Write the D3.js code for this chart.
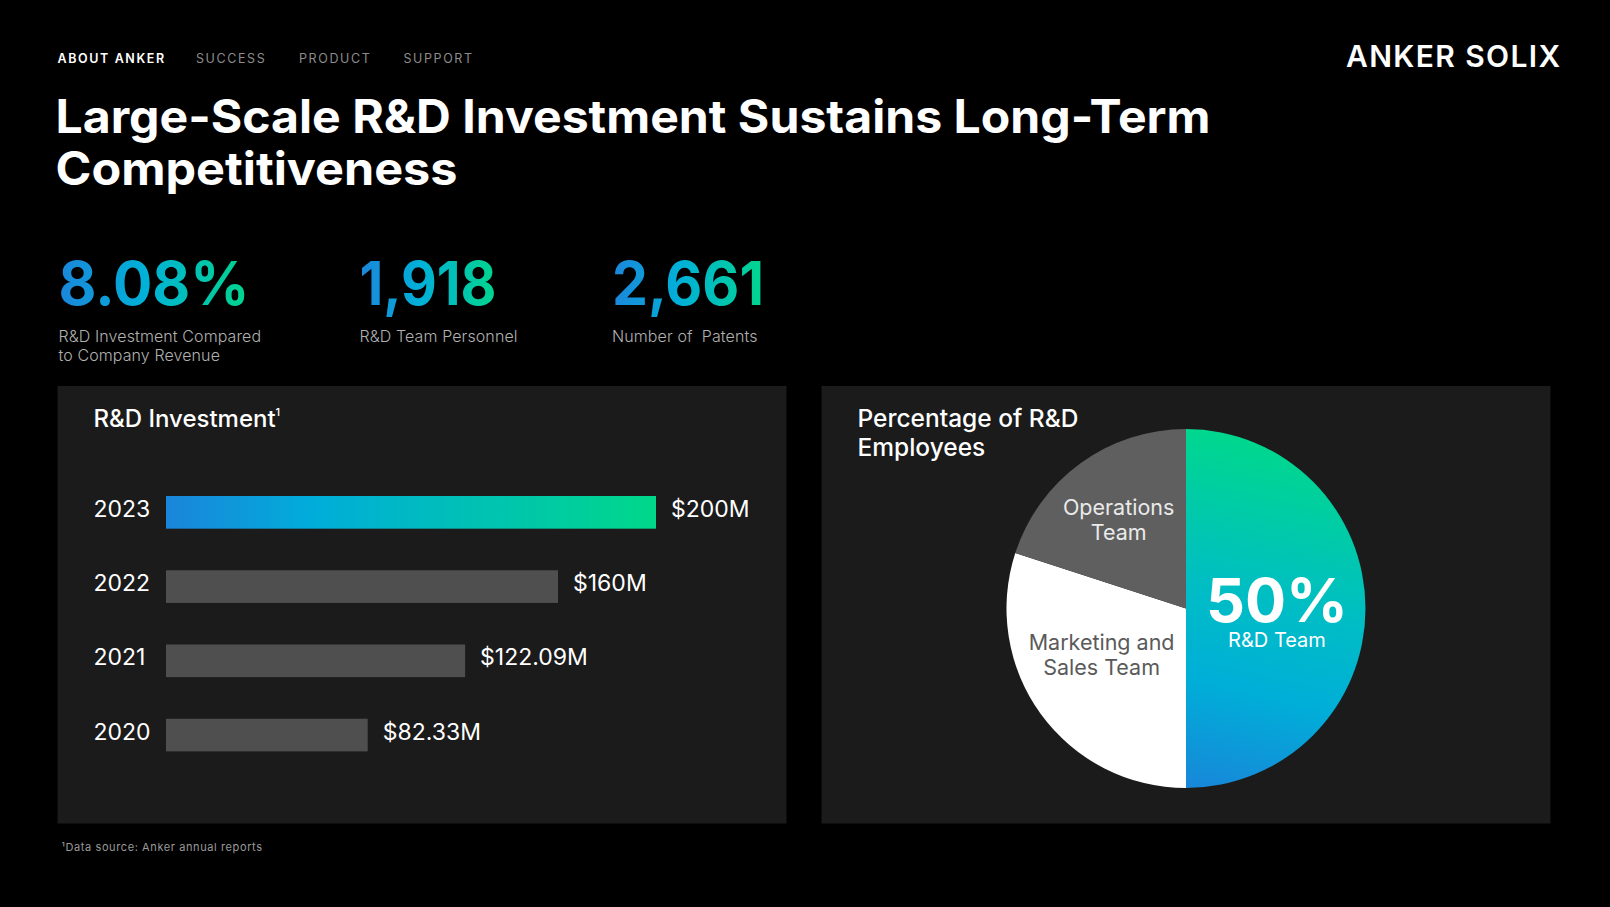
<!DOCTYPE html>
<html>
<head>
<meta charset="utf-8">
<script src="https://cdn.jsdelivr.net/npm/d3@7"></script>
<style>
    html, body { margin: 0; padding: 0; background: #000; }
    svg { display: block; font-family: Inter, "Noto Sans", sans-serif; }
</style>
</head>
<body>
<svg id="chart" width="1610" height="907"></svg>
<script>
// ---- data ----
const navItems = ["ABOUT ANKER", "SUCCESS", "PRODUCT", "SUPPORT"];
const titleLines = ["Large-Scale R&D Investment Sustains Long-Term", "Competitiveness"];
const statValues = ["8.08%", "1,918", "2,661"];
const statLabels = [["R&D Investment Compared", "to Company Revenue"], ["R&D Team Personnel"], ["Number of  Patents"]];
const years = ["2023", "2022", "2021", "2020"];
const investment = [200, 160, 122.09, 82.33];
const investmentLabels = ["$200M", "$160M", "$122.09M", "$82.33M"];
const teams = ["R&D Team", "Marketing and Sales Team", "Operations Team"];
const teamShare = [50, 30, 20];
const teamLines = [["R&D Team"], ["Marketing and", "Sales Team"], ["Operations", "Team"]];

(function() {
    const svg = d3.select("#chart");
    const defs = svg.append("defs");

    function hGradient(id, stops) {
        const g = defs.append("linearGradient").attr("id", id)
            .attr("x1", 0).attr("y1", 0).attr("x2", 1).attr("y2", 0);
        stops.forEach(s => g.append("stop").attr("offset", s[0]).attr("stop-color", s[1]));
    }
    hGradient("numGrad", [[0, "#1c86db"], [0.45, "#00b1d8"], [1, "#00d68c"]]);
    hGradient("barGrad", [[0, "#1b85da"], [0.3, "#00adda"], [1, "#00d88a"]]);

    svg.append("rect").attr("width", 1610).attr("height", 907).attr("fill", "#000");

    // nav
    const navX = [57.5, 196, 299, 403.5];
    svg.append("g").selectAll("text")
        .data(navItems)
        .join("text")
        .attr("x", (d, i) => navX[i])
        .attr("y", 62.5)
        .attr("font-size", 12.5)
        .attr("letter-spacing", 1.6)
        .attr("font-weight", (d, i) => i === 0 ? 600 : 400)
        .attr("fill", (d, i) => i === 0 ? "#ffffff" : "#8c8c8c")
        .text(d => d);

    // logo
    svg.append("text")
        .attr("x", 1346).attr("y", 66.5)
        .attr("font-size", 30)
        .attr("font-weight", 600)
        .attr("fill", "#fff")
        .attr("textLength", 214)
        .attr("lengthAdjust", "spacing")
        .text("ANKER SOLIX");

    // title
    const titleWidth = [1155, 402];
    svg.append("g").selectAll("text")
        .data(titleLines)
        .join("text")
        .attr("x", 55.5)
        .attr("y", (d, i) => 133 + i * 51.5)
        .attr("font-size", 46)
        .attr("font-weight", 700)
        .attr("fill", "#fff")
        .attr("textLength", (d, i) => titleWidth[i])
        .attr("lengthAdjust", "spacingAndGlyphs")
        .text(d => d);

    // stats
    const statX = [58.5, 359.5, 612];
    const statW = [191, 137, 152];
    const stats = svg.append("g").selectAll("g")
        .data(statValues)
        .join("g")
        .attr("transform", (d, i) => `translate(${statX[i]},0)`);
    stats.append("text")
        .attr("y", 305)
        .attr("font-size", 61)
        .attr("font-weight", 700)
        .attr("fill", "url(#numGrad)")
        .attr("textLength", (d, i) => statW[i])
        .attr("lengthAdjust", "spacingAndGlyphs")
        .text(d => d);
    stats.each(function(d, i) {
        d3.select(this).selectAll("text.lbl")
            .data(statLabels[i])
            .join("text")
            .attr("class", "lbl")
            .attr("y", (t, j) => 341.5 + j * 19.5)
            .attr("font-size", 16)
            .attr("font-weight", 300)
            .attr("letter-spacing", 0.1)
            .style("white-space", "pre")
            .attr("fill", "#b0b0b0")
            .text(t => t);
    });

    // panels
    svg.append("rect").attr("x", 57.5).attr("y", 386).attr("width", 729).attr("height", 437.5).attr("fill", "#1b1b1b");
    svg.append("rect").attr("x", 821.5).attr("y", 386).attr("width", 729).attr("height", 437.5).attr("fill", "#1b1b1b");

    // bar chart
    const barTitle = svg.append("text").attr("x", 93.5).attr("y", 426.5)
        .attr("font-size", 24).attr("font-weight", 500).attr("fill", "#fff");
    barTitle.append("tspan").text("R&D Investment");
    barTitle.append("tspan").attr("font-size", 11).attr("dy", -11).text("1");

    const x = d3.scaleLinear().domain([0, 200]).range([166, 656]);
    const y = d3.scaleBand().domain(years).range([496, 751.4]).paddingInner(0.56).paddingOuter(0);

    const rows = svg.append("g").selectAll("g")
        .data(years)
        .join("g");
    rows.append("rect")
        .attr("x", x(0))
        .attr("y", d => y(d))
        .attr("width", (d, i) => x(investment[i]) - x(0))
        .attr("height", y.bandwidth())
        .attr("fill", (d, i) => i === 0 ? "url(#barGrad)" : "#4f4f4f");
    rows.append("text")
        .attr("x", 93.5)
        .attr("y", d => y(d) + y.bandwidth() / 2 + 4.5)
        .attr("font-size", 23)
        .attr("fill", "#fff")
        .text(d => d);
    rows.append("text")
        .attr("x", (d, i) => x(investment[i]) + 15)
        .attr("y", d => y(d) + y.bandwidth() / 2 + 4.5)
        .attr("font-size", 23)
        .attr("fill", "#fff")
        .text((d, i) => investmentLabels[i]);

    // pie chart
    svg.append("g").selectAll("text")
        .data(["Percentage of R&D", "Employees"])
        .join("text")
        .attr("x", 857.5)
        .attr("y", (d, i) => 426.5 + i * 29.5)
        .attr("font-size", 24.5)
        .attr("font-weight", 500)
        .attr("fill", "#fff")
        .text(d => d);

    const cx = 1186, cy = 608.5, r = 179.5;
    // gradient coordinates are in the translated pie group's space
    defs.append("linearGradient").attr("id", "pieGrad")
        .attr("gradientUnits", "userSpaceOnUse")
        .attr("x1", 60).attr("y1", -r)
        .attr("x2", -20).attr("y2", r)
        .selectAll("stop")
        .data([[0, "#00d98a"], [0.45, "#00bdc5"], [0.7, "#00aed8"], [1, "#1985d9"]])
        .join("stop")
        .attr("offset", d => d[0])
        .attr("stop-color", d => d[1]);

    const pie = d3.pie().sort(null).value(d => d);
    const arcs = pie(teamShare);
    const arc = d3.arc().innerRadius(0).outerRadius(r);
    const sliceFill = ["url(#pieGrad)", "#ffffff", "#5f5f5f"];

    const gPie = svg.append("g").attr("transform", `translate(${cx},${cy})`);
    gPie.selectAll("path")
        .data(arcs)
        .join("path")
        .attr("d", arc)
        .attr("fill", (d, i) => sliceFill[i]);

    const labelK = [0.507, 0.54, 0.61];
    const labelNudge = [[0, 0], [-6, -10], [-3, 0]];
    const labelColor = ["#fff", "#5a5a5a", "#eaeaea"];

    arcs.forEach((a, i) => {
        const la = d3.arc().innerRadius(r * labelK[i]).outerRadius(r * labelK[i]);
        const c = la.centroid(a);
        const px = c[0] + labelNudge[i][0], py = c[1] + labelNudge[i][1];
        if (i === 0) {
            const t = gPie.append("text")
                .attr("text-anchor", "middle")
                .attr("fill", "#fff");
            t.append("tspan")
                .attr("x", px).attr("y", py + 13)
                .attr("font-size", 61)
                .attr("font-weight", 700)
                .text(d3.format(".0%")(teamShare[i] / d3.sum(teamShare)));
            t.append("tspan")
                .attr("x", px).attr("y", py + 38.5)
                .attr("font-size", 20)
                .attr("font-weight", 400)
                .text(teamLines[i][0]);
        } else {
            const lines = teamLines[i];
            gPie.append("g").selectAll("text")
                .data(lines)
                .join("text")
                .attr("x", px)
                .attr("y", (t, j) => py + (j - (lines.length - 1) / 2) * 25 + 7.5)
                .attr("text-anchor", "middle")
                .attr("font-size", 21.5)
                .attr("fill", labelColor[i])
                .text(t => t);
        }
    });

    // footnote
    svg.append("text")
        .attr("x", 61.5).attr("y", 850.5)
        .attr("font-size", 11)
        .attr("letter-spacing", 0.6)
        .attr("fill", "#9a9a9a")
        .text("¹Data source: Anker annual reports");
})();
</script>
</body>
</html>
